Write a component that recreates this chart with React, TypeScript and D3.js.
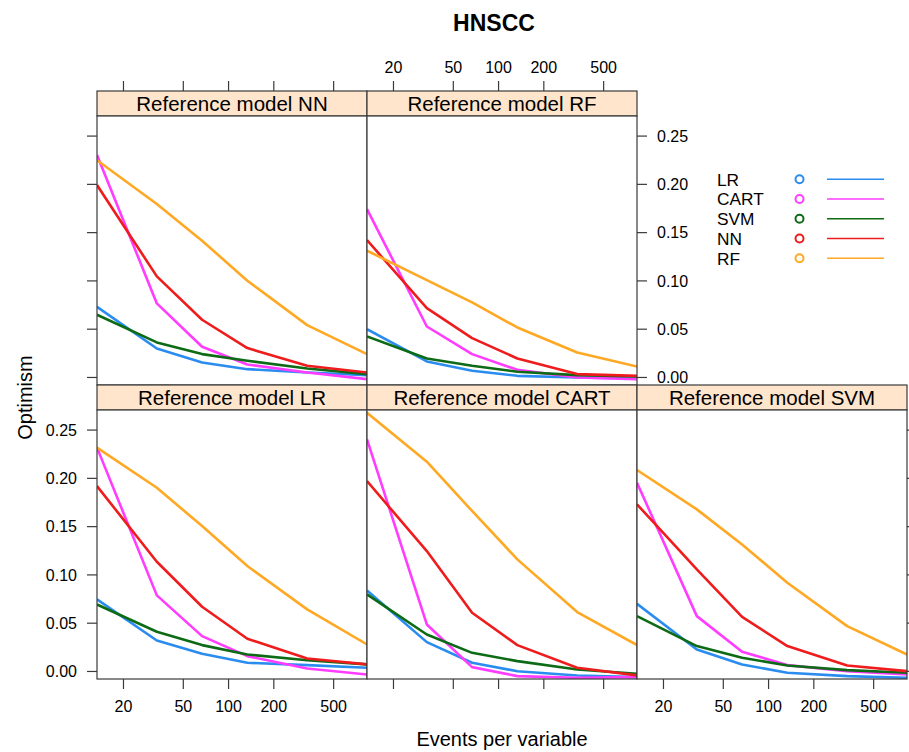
import React from "react";
import * as d3 from "d3";

// ---- data ----
const epv = [13.333, 33.333, 66.667, 133.33, 333.33, 833.33];
const seriesNames = ["LR", "CART", "SVM", "NN", "RF"];
const seriesColors = ["#2b8cf0", "#ff3cff", "#0d6b16", "#ee1c1c", "#ffa823"];
const xTicks = [20, 50, 100, 200, 500];
const yTicks = [0, 0.05, 0.1, 0.15, 0.2, 0.25];

// each: [LR, CART, SVM, NN, RF]
const refNN = [
  [0.0732, 0.03, 0.0155, 0.0086, 0.0052, 0.0024],
  [0.2304, 0.0767, 0.0318, 0.0135, 0.0052, -0.0017],
  [0.065, 0.0363, 0.0242, 0.0173, 0.0093, 0.0035],
  [0.1993, 0.1047, 0.0598, 0.0304, 0.0121, 0.0052],
  [0.225, 0.1796, 0.1416, 0.1002, 0.0542, 0.0242],
];
const refRF = [
  [0.05, 0.0166, 0.0069, 0.0017, 0.0, -0.001],
  [0.1744, 0.0528, 0.0242, 0.0079, 0.0, -0.0017],
  [0.0425, 0.0197, 0.0121, 0.0059, 0.0024, 0.001],
  [0.1423, 0.0718, 0.0408, 0.0197, 0.0035, 0.0017],
  [0.1313, 0.1009, 0.0777, 0.0518, 0.0259, 0.0114],
];
const refLR = [
  [0.0746, 0.0321, 0.0183, 0.009, 0.0066, 0.0038],
  [0.2318, 0.0788, 0.0366, 0.0159, 0.0031, -0.0031],
  [0.0694, 0.0411, 0.0273, 0.0176, 0.0117, 0.0073],
  [0.192, 0.1136, 0.067, 0.0339, 0.0135, 0.0073],
  [0.2318, 0.1903, 0.1506, 0.1092, 0.0643, 0.028],
];
const refCART = [
  [0.0839, 0.0304, 0.009, 0.0003, -0.0041, -0.0059],
  [0.2404, 0.0487, 0.0045, -0.0048, -0.0066, -0.0059],
  [0.0798, 0.0383, 0.0193, 0.0107, 0.0021, -0.0024],
  [0.1972, 0.1247, 0.0608, 0.0273, 0.0038, -0.0041],
  [0.268, 0.2173, 0.1662, 0.1161, 0.0615, 0.0273],
];
const refSVM = [
  [0.0701, 0.0228, 0.0073, -0.0014, -0.0048, -0.0066],
  [0.1955, 0.0573, 0.0204, 0.0066, 0.0003, -0.0031],
  [0.0573, 0.0263, 0.0142, 0.0062, 0.0014, -0.0014],
  [0.1731, 0.1057, 0.0566, 0.0263, 0.0062, 0.0003],
  [0.2086, 0.1679, 0.1316, 0.0919, 0.047, 0.0176],
];

const panels = [
  { title: "Reference model NN", data: refNN, col: 0, row: 0 },
  { title: "Reference model RF", data: refRF, col: 1, row: 0 },
  { title: "Reference model LR", data: refLR, col: 0, row: 1 },
  { title: "Reference model CART", data: refCART, col: 1, row: 1 },
  { title: "Reference model SVM", data: refSVM, col: 2, row: 1 },
];

// ---- layout ----
const W = 909;
const H = 752;
const left0 = 97;
const panelW = 270;
const stripH = 25;
const panelH = 269;
const top0 = 91;
const rowH = stripH + panelH;
const tick = 10;
const FONT = "'Liberation Sans', Arial, Helvetica, sans-serif";
const border = "#3a3a3a";

const colX = (c: number) => left0 + c * panelW;
const stripY = (r: number) => top0 + r * rowH;
const panelY = (r: number) => stripY(r) + stripH;

export default function App() {
  const x = d3.scaleLog().domain([epv[0], epv[epv.length - 1]]).range([0, panelW]);
  const y = d3.scaleLinear().domain([-0.0078, 0.2708]).range([panelH, 0]);
  const fmt = d3.format(".2f");

  const line = d3
    .line<number>()
    .x((_, i) => x(epv[i]))
    .y((v) => y(v));

  // legend placement
  const legY = d3.scalePoint<string>().domain(seriesNames).range([179.3, 258.3]);

  return (
    <div style={{ position: "absolute", left: 0, top: 0 }}>
      <svg width={W} height={H} style={{ display: "block", background: "#fff" }} fontFamily={FONT}>
        <defs>
          <clipPath id="pclip">
            <rect x={0} y={0} width={panelW} height={panelH} />
          </clipPath>
        </defs>

        {/* title */}
        <text x={494} y={30.5} textAnchor="middle" fontSize={23} fontWeight="bold" fill="#000">
          HNSCC
        </text>

        {panels.map((p) => {
          const px = colX(p.col);
          const py = panelY(p.row);
          const sy = stripY(p.row);
          return (
            <g key={p.title}>
              {/* strip */}
              <rect x={px} y={sy} width={panelW} height={stripH} fill="#ffe5cc" stroke={border} strokeWidth={1.2} />
              <text x={px + panelW / 2} y={sy + 19.5} textAnchor="middle" fontSize={20.5} fill="#000">
                {p.title}
              </text>
              <g transform={`translate(${px},${py})`}>
                <rect x={0} y={0} width={panelW} height={panelH} fill="#fff" />
                <g clipPath="url(#pclip)">
                  {p.data.map((vals, si) => (
                    <path
                      key={si}
                      d={line(vals) || ""}
                      fill="none"
                      stroke={seriesColors[si]}
                      strokeWidth={2.6}
                      strokeLinejoin="round"
                    />
                  ))}
                </g>
                <rect x={0} y={0} width={panelW} height={panelH} fill="none" stroke={border} strokeWidth={1.2} />
              </g>
            </g>
          );
        })}

        {/* top axis (cols 0,1), labels on col 1 */}
        {[0, 1].map((c) => (
          <g key={"top" + c} transform={`translate(${colX(c)},${stripY(0)})`}>
            {xTicks.map((t) => (
              <g key={t} transform={`translate(${x(t)},0)`}>
                <line y1={0} y2={-tick} stroke={border} strokeWidth={1.2} />
                {c === 1 && (
                  <text y={-18.5} textAnchor="middle" fontSize={16} fill="#000">
                    {t}
                  </text>
                )}
              </g>
            ))}
          </g>
        ))}

        {/* bottom axis (all cols), labels on cols 0,2 */}
        {[0, 1, 2].map((c) => (
          <g key={"bot" + c} transform={`translate(${colX(c)},${panelY(1) + panelH})`}>
            {xTicks.map((t) => (
              <g key={t} transform={`translate(${x(t)},0)`}>
                <line y1={0} y2={tick} stroke={border} strokeWidth={1.2} />
                {c !== 1 && (
                  <text y={33} textAnchor="middle" fontSize={16} fill="#000">
                    {t}
                  </text>
                )}
              </g>
            ))}
          </g>
        ))}

        {/* left axis */}
        {[0, 1].map((r) => (
          <g key={"left" + r} transform={`translate(${colX(0)},${panelY(r)})`}>
            {yTicks.map((t) => (
              <g key={t} transform={`translate(0,${y(t)})`}>
                <line x1={0} x2={-tick} stroke={border} strokeWidth={1.2} />
                {r === 1 && (
                  <text x={-20} y={5.7} textAnchor="end" fontSize={16} fill="#000">
                    {fmt(t)}
                  </text>
                )}
              </g>
            ))}
          </g>
        ))}

        {/* right axis: row 0 at col1 right edge with labels, row 1 at col2 right edge */}
        {[0, 1].map((r) => (
          <g key={"right" + r} transform={`translate(${colX(r === 0 ? 2 : 3)},${panelY(r)})`}>
            {yTicks.map((t) => (
              <g key={t} transform={`translate(0,${y(t)})`}>
                <line x1={0} x2={tick} stroke={border} strokeWidth={1.2} />
                {r === 0 && (
                  <text x={20} y={5.7} textAnchor="start" fontSize={16} fill="#000">
                    {fmt(t)}
                  </text>
                )}
              </g>
            ))}
          </g>
        ))}

        {/* axis titles */}
        <text x={502} y={745.5} textAnchor="middle" fontSize={20} fill="#000">
          Events per variable
        </text>
        <text
          transform={`translate(32,${panelY(0) + (rowH + panelH) / 2}) rotate(-90)`}
          textAnchor="middle"
          fontSize={20}
          fill="#000"
        >
          Optimism
        </text>

        {/* legend */}
        {seriesNames.map((s, i) => {
          const cy = legY(s) || 0;
          return (
            <g key={s}>
              <text x={717} y={cy + 6.3} fontSize={17.3} fill="#000">
                {s}
              </text>
              <circle cx={799.5} cy={cy} r={4} fill="none" stroke={seriesColors[i]} strokeWidth={2} />
              <line x1={827} x2={884} y1={cy} y2={cy} stroke={seriesColors[i]} strokeWidth={1.6} />
            </g>
          );
        })}
      </svg>
    </div>
  );
}
